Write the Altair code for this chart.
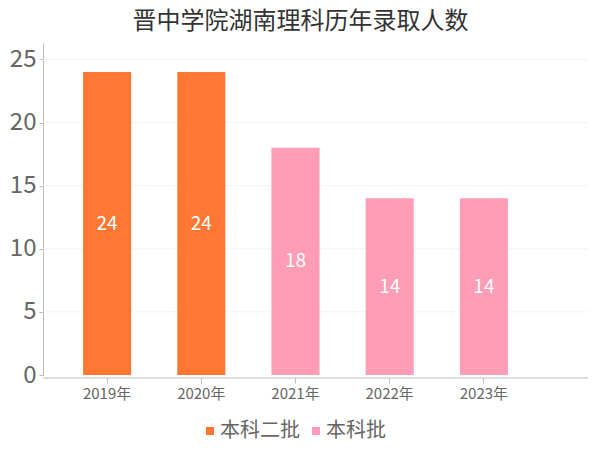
import altair as alt
import pandas as pd

years = ["2019年", "2020年", "2021年", "2022年", "2023年"]
values = [24, 24, 18, 14, 14]
batches = ["本科二批", "本科二批", "本科批", "本科批", "本科批"]
batch_order = ["本科二批", "本科批"]
colors = ["#FF7733", "#FF9CB6"]
y_ticks = [0, 5, 10, 15, 20, 25]

df = pd.DataFrame({"year": years, "value": values, "batch": batches})
grid_df = pd.DataFrame({"g": y_ticks[1:]})

W, H = 545, 332
FONT = "Noto Sans CJK SC"

x = alt.X("year:N", sort=years, title=None,
          scale=alt.Scale(range=[17, 488], paddingInner=0.49, paddingOuter=0.245),
          axis=alt.Axis(labelAngle=0, labelFontSize=15, labelColor="#666666",
                        labelFont=FONT, domain=False, tickColor="#bbbbbb",
                        tickSize=5, offset=3, labelPadding=3, grid=False))
yscale = alt.Scale(domain=[0, 26.3], nice=False)
yaxis = alt.Axis(values=y_ticks, labelFontSize=24,
                 labelColor="#666666", labelFont=FONT, domainColor="#bbbbbb",
                 tickColor="#bbbbbb", tickSize=4, grid=False,
                 labelPadding=3)

grid = alt.Chart(grid_df).mark_rule(color="#f3f3f3", strokeWidth=1).encode(
    y=alt.Y("g:Q", scale=yscale, axis=yaxis, title=None),
    x=alt.value(0), x2=alt.value(W),
)

base = alt.Chart(df)

bars = base.mark_bar().encode(
    x=x,
    y=alt.Y("value:Q", title=None, scale=yscale, axis=yaxis),
    color=alt.Color("batch:N", sort=batch_order,
                    scale=alt.Scale(domain=batch_order, range=colors),
                    legend=alt.Legend(title=None, orient="none", direction="horizontal",
                                      legendX=157, legendY=378, symbolType="square",
                                      symbolSize=64, labelFontSize=20, labelColor="#666666",
                                      labelFont=FONT, columnPadding=6, labelOffset=0,
                                      padding=0, symbolStrokeWidth=0, labelLimit=300)),
)

labels = base.mark_text(color="white", fontSize=19, font=FONT, baseline="middle").encode(
    x=alt.X("year:N", sort=years),
    y=alt.Y("half:Q"),
    text="value:Q",
).transform_calculate(half="datum.value / 2")

axis_line = alt.Chart(pd.DataFrame({"a": [0]})).mark_rule(color="#bbbbbb", strokeWidth=1).encode(
    x=alt.value(0), x2=alt.value(W), y=alt.value(H + 3)
)

chart = alt.layer(grid, bars, labels, axis_line).properties(
    width=W, height=H,
    autosize=alt.AutoSizeParams(type="none"),
    padding={"left": 35, "top": 35, "right": 4, "bottom": 75},
    title=alt.Title("晋中学院湖南理科历年录取人数", fontSize=24, font=FONT,
                    color="#333333", fontWeight="normal", anchor="middle",
                    dx=-15, offset=9),
).configure_view(stroke=None)

chart.save("out.html", embed_options={"renderer": "svg", "actions": False})
